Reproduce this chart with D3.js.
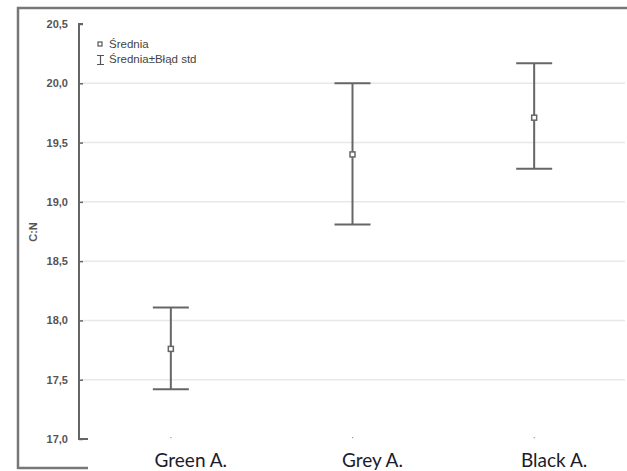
<!DOCTYPE html>
<html>
<head>
<meta charset="utf-8">
<script src="https://cdn.jsdelivr.net/npm/d3@7"></script>
<style>
  body { margin: 0; background: #fff; }
  svg { display: block; }
</style>
</head>
<body>
<svg width="627" height="471"></svg>
<script>
// data
const categories = ["Green A.", "Grey A.", "Black A."];
const means = [17.76, 19.40, 19.71];
const upper = [18.11, 20.00, 20.17];
const lower = [17.42, 18.81, 19.28];
const yTicks = [17.0, 17.5, 18.0, 18.5, 19.0, 19.5, 20.0, 20.5];
const gridTicks = [17.5, 18.0, 18.5, 19.0, 19.5, 20.0];

const svg = d3.select("svg");
const fmt = d => d3.format(".1f")(d).replace(".", ",");

const plot = { left: 80, right: 625, top: 24, bottom: 439 };

const x = d3.scalePoint().domain(categories).range([plot.left, plot.right]).padding(0.5);
const y = d3.scaleLinear().domain([17, 20.5]).range([plot.bottom, plot.top]);

// outer frame (clipped screenshot)
const frame = svg.append("g").attr("stroke", "#777").attr("stroke-width", 2.5).attr("fill", "none");
frame.append("path").attr("d", "M18,469 L18,8 L627,8");
frame.append("path").attr("d", "M18,468 L88,468");

// grid
svg.append("g").selectAll("line").data(gridTicks).join("line")
  .attr("x1", plot.left + 1).attr("x2", plot.right)
  .attr("y1", d => y(d)).attr("y2", d => y(d))
  .attr("stroke", "#e8e8e8").attr("stroke-width", 1.5);

// y axis (ticks inside)
const yAxis = svg.append("g")
  .attr("transform", `translate(${plot.left - 1},0)`)
  .call(d3.axisRight(y).tickValues(yTicks).tickSize(4).tickFormat(fmt));
yAxis.select(".domain").attr("stroke", "#666").attr("stroke-width", 2)
  .attr("d", `M4,${plot.top}H0V${plot.bottom}H9`);
yAxis.selectAll(".tick line").attr("stroke", "#666").attr("stroke-width", 1.5);
yAxis.selectAll(".tick text")
  .attr("x", -11).attr("text-anchor", "end")
  .attr("fill", "#555").attr("font-family", "Liberation Sans, Arial, sans-serif")
  .attr("font-size", 11).attr("font-weight", "bold");

// y label
svg.append("text")
  .attr("transform", "translate(37,232) rotate(-90)")
  .attr("text-anchor", "middle")
  .attr("font-family", "Liberation Sans, Arial, sans-serif")
  .attr("font-size", 11).attr("font-weight", "bold").attr("fill", "#555")
  .text("C:N");

// category tick dots and labels
svg.append("g").selectAll("rect").data(categories).join("rect")
  .attr("x", d => x(d) - 0.5).attr("y", 437).attr("width", 1.2).attr("height", 1.2)
  .attr("fill", "#999");
svg.append("g").selectAll("text").data(categories).join("text")
  .attr("x", d => x(d) + 20).attr("y", 467)
  .attr("text-anchor", "middle")
  .attr("font-family", "Lato, Carlito, sans-serif")
  .attr("font-size", 19).attr("fill", "#1c1c2c")
  .text(d => d);

// error bars
const bars = svg.append("g").selectAll("g").data(categories).join("g")
  .attr("stroke", "#666").attr("stroke-width", 2);
const capW = 18;
bars.append("line")
  .attr("x1", d => x(d)).attr("x2", d => x(d))
  .attr("y1", (d, i) => y(upper[i])).attr("y2", (d, i) => y(lower[i]));
bars.append("line")
  .attr("x1", d => x(d) - capW).attr("x2", d => x(d) + capW)
  .attr("y1", (d, i) => y(upper[i])).attr("y2", (d, i) => y(upper[i]));
bars.append("line")
  .attr("x1", d => x(d) - capW).attr("x2", d => x(d) + capW)
  .attr("y1", (d, i) => y(lower[i])).attr("y2", (d, i) => y(lower[i]));
bars.append("rect")
  .attr("x", d => x(d) - 2.5).attr("y", (d, i) => y(means[i]) - 2.5)
  .attr("width", 5).attr("height", 5)
  .attr("fill", "#fff").attr("stroke-width", 1.5);

// legend
const lg = svg.append("g").attr("font-family", "Liberation Sans, Arial, sans-serif")
  .attr("font-size", 11.5).attr("fill", "#444");
lg.append("rect").attr("x", 98).attr("y", 42).attr("width", 4).attr("height", 4)
  .attr("fill", "#fff").attr("stroke", "#555").attr("stroke-width", 1.2);
lg.append("text").attr("x", 109).attr("y", 48).text("Średnia");
lg.append("path").attr("d", "M97,55.5H104M100.5,55.5V64.5M97,64.5H104")
  .attr("stroke", "#555").attr("stroke-width", 1.2).attr("fill", "none");
lg.append("text").attr("x", 109).attr("y", 63).text("Średnia±Błąd std");
</script>
</body>
</html>
